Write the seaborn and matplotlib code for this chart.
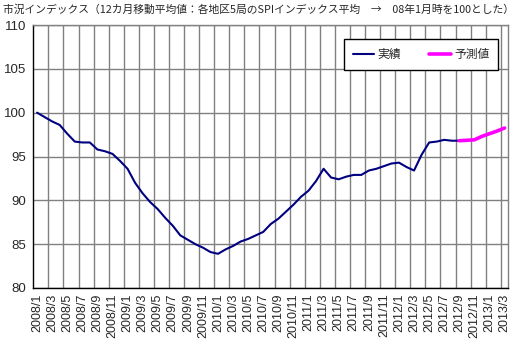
import matplotlib
matplotlib.use("Agg")
import matplotlib.pyplot as plt
import seaborn as sns
import numpy as np
import pandas as pd
from matplotlib.lines import Line2D

title = "市況インデックス（12カ月移動平均値：各地区5局のSPIインデックス平均　→　08年1月時を100とした）"

months = [f"{y}/{m}" for y in range(2008, 2014) for m in range(1, 13)][:63]

actual = [100.0, 99.5, 99.0, 98.6, 97.6, 96.7, 96.6, 96.6, 95.8, 95.6,
          95.3, 94.5, 93.6, 92.0, 90.8, 89.8, 89.0, 88.0, 87.1, 86.0,
          85.5, 85.0, 84.6, 84.1, 83.9, 84.4, 84.8, 85.3, 85.6, 86.0,
          86.4, 87.3, 87.9, 88.7, 89.5, 90.4, 91.1, 92.2, 93.6, 92.6,
          92.4, 92.7, 92.9, 92.9, 93.4, 93.6, 93.9, 94.2, 94.3, 93.8,
          93.4, 95.2, 96.6, 96.7, 96.9, 96.8, 96.8]
forecast = [96.8, 96.85, 96.9, 97.3, 97.6, 97.9, 98.25]
forecast_start = 56

label_actual = "実績"
label_forecast = "予測値"

n = len(months)
idx = np.arange(n)
df = pd.DataFrame({
    "i": np.concatenate([idx[:len(actual)], idx[forecast_start:forecast_start + len(forecast)]]),
    "value": actual + forecast,
    "series": [label_actual] * len(actual) + [label_forecast] * len(forecast),
})

sns.set_style("white")
plt.rcParams['font.family'] = ['Liberation Sans', 'Noto Sans CJK JP', 'DejaVu Sans']

fig = plt.figure(figsize=(5.22, 3.52), dpi=100)
ax = fig.add_axes([33.3 / 522, 1 - 288 / 352, (508.3 - 33.3) / 522, (288 - 25) / 352])

sns.lineplot(data=df, x="i", y="value", hue="series", size="series",
             palette={label_actual: "#000080", label_forecast: "#FF00FF"},
             sizes={label_actual: 1.5, label_forecast: 2.6},
             ax=ax, legend=False)

ax.set_xlim(-0.5, n - 0.5)
ax.set_ylim(80, 110)
ax.set_yticks(np.arange(80, 111, 5))
ax.set_xticks(idx[::2])
ax.set_xticklabels(months[::2], rotation=90, fontsize=9)
ax.set_xticks(np.arange(1.5, n - 0.5, 2), minor=True)
ax.tick_params(axis='x', which='major', length=0, pad=4)
ax.tick_params(axis='x', which='minor', direction='in', length=4, color='black', width=1)
ax.tick_params(axis='y', length=0, labelsize=9.5, pad=5)
ax.set_xlabel("")
ax.set_ylabel("")
ax.grid(False)
ax.xaxis.grid(True, which='minor', color='#808080', linewidth=1)
ax.yaxis.grid(True, which='major', color='#808080', linewidth=1)
ax.set_axisbelow(True)
for s in ['top', 'right']:
    ax.spines[s].set_color('#808080')
    ax.spines[s].set_linewidth(1)
for s in ['left', 'bottom']:
    ax.spines[s].set_color('black')
    ax.spines[s].set_linewidth(1)

handles = [Line2D([], [], color="#000080", lw=1.5), Line2D([], [], color="#FF00FF", lw=2.6)]
leg = ax.legend(handles, [label_actual, label_forecast], ncol=2, loc='upper right',
                bbox_to_anchor=(498.3 / 522, 1 - 39.3 / 352), bbox_transform=fig.transFigure,
                borderaxespad=0, frameon=True, fancybox=False, framealpha=1, edgecolor='black',
                handlelength=1.8, handletextpad=0.3, columnspacing=2.4, borderpad=0.75,
                prop={'family': ['Noto Sans CJK JP', 'DejaVu Sans'], 'size': 8.5})
leg.get_frame().set_linewidth(1)

fig.text(3 / 522, 1 - 10 / 352, title, fontsize=7.75, va='center', ha='left',
         family=['Noto Sans CJK JP', 'DejaVu Sans'])

fig.savefig("out.png", dpi=100)
